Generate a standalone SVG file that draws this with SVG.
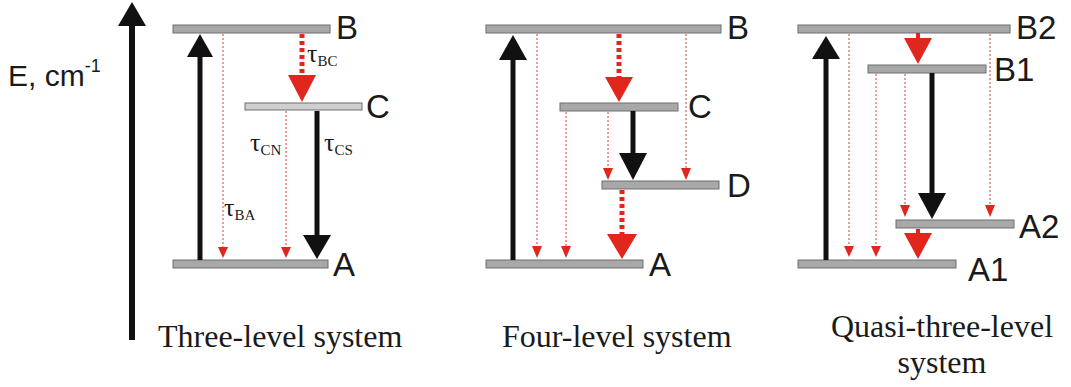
<svg xmlns="http://www.w3.org/2000/svg" width="1071" height="387" viewBox="0 0 1071 387">
<style>
.lvl{fill:#a8a8a8;stroke:#6e6e6e;stroke-width:1}
.lvl2{fill:#cfcfcf;stroke:#6e6e6e;stroke-width:1}
.lab{font-family:"Liberation Sans",Arial,sans-serif;font-size:33px;fill:#1a1a1a}
.cap{font-family:"Liberation Serif","Times New Roman",serif;font-size:32px;fill:#1a1a1a}
.tau{font-family:"Liberation Serif","Times New Roman",serif;font-size:26px;fill:#1a1a1a}
.sub{font-size:15px}
.blk{stroke:#111;stroke-width:5;fill:none}
.dot{stroke:#e8342a;stroke-width:1;stroke-dasharray:2 2;fill:none}
.dsh{stroke:#e0261d;stroke-width:5;stroke-dasharray:4 3;fill:none}
.ah{fill:#111}
.rh{fill:#e0261d}
</style>
<rect width="1071" height="387" fill="#fff"/>
<g id="axis">
<line x1="132" y1="340" x2="132" y2="24" stroke="#111" stroke-width="6"/>
<polygon points="132,2 146,26 118,26" class="ah"/>
<text x="8" y="86" font-family="Liberation Sans,Arial,sans-serif" font-size="30" fill="#1a1a1a">E, cm<tspan font-size="18" dy="-14">-1</tspan></text>
</g>
<!-- Three-level -->
<g id="t-B"><rect x="173" y="25" width="157" height="8" class="lvl"/><text x="336" y="39" class="lab">B</text></g>
<g id="t-C"><rect x="245" y="103" width="117" height="7" class="lvl2"/><text x="366" y="118" class="lab">C</text></g>
<g id="t-A"><rect x="173" y="260" width="155" height="8" class="lvl"/><text x="333" y="276" class="lab">A</text></g>
<g id="t-cap"><text x="158" y="347" class="cap">Three-level system</text></g>
<!-- Four-level -->
<g id="f-B"><rect x="486" y="25" width="235" height="8" class="lvl"/><text x="727" y="39" class="lab">B</text></g>
<g id="f-C"><rect x="560" y="103" width="118" height="8" class="lvl"/><text x="688" y="118" class="lab">C</text></g>
<g id="f-D"><rect x="602" y="181" width="117" height="8" class="lvl"/><text x="727" y="197" class="lab">D</text></g>
<g id="f-A"><rect x="486" y="260" width="157" height="8" class="lvl"/><text x="649" y="276" class="lab">A</text></g>
<g id="f-cap"><text x="502" y="347" class="cap">Four-level system</text></g>
<!-- Quasi-three-level -->
<g id="q-B2"><rect x="798" y="25" width="212" height="8" class="lvl"/><text x="1016" y="39" class="lab">B2</text></g>
<g id="q-B1"><rect x="868" y="65" width="118" height="8" class="lvl"/><text x="994" y="81" class="lab">B1</text></g>
<g id="q-A2"><rect x="896" y="220" width="118" height="8" class="lvl"/><text x="1019" y="238" class="lab">A2</text></g>
<g id="q-A1"><rect x="798" y="260" width="158" height="8" class="lvl"/><text x="968" y="281" class="lab">A1</text></g>
<g id="q-cap"><text x="942" y="337" class="cap" text-anchor="middle">Quasi-three-level</text><text x="942" y="373" class="cap" text-anchor="middle">system</text></g>
<g id="connectors">
<!-- three-level -->
<line x1="200" y1="260" x2="200" y2="55" class="blk"/>
<polygon points="200,34 213,57 187,57" class="ah"/>
<line x1="223" y1="34" x2="223" y2="248" class="dot"/>
<polygon points="218,247 228,247 223,258" class="rh"/>
<line x1="302" y1="34" x2="302" y2="76" class="dsh"/>
<polygon points="288,75 316,75 302,102" class="rh"/>
<line x1="286" y1="111" x2="286" y2="248" class="dot"/>
<polygon points="281,247 291,247 286,258" class="rh"/>
<line x1="317" y1="111" x2="317" y2="237" class="blk"/>
<polygon points="303,235 331,235 317,259" class="ah"/>
<text x="307" y="62" class="tau">τ<tspan class="sub" dy="4">BC</tspan></text>
<text x="250" y="151" class="tau">τ<tspan class="sub" dy="4">CN</tspan></text>
<text x="324" y="151" class="tau">τ<tspan class="sub" dy="4">CS</tspan></text>
<text x="224" y="216" class="tau">τ<tspan class="sub" dy="4">BA</tspan></text>
<!-- four-level -->
<line x1="513" y1="260" x2="513" y2="58" class="blk"/>
<polygon points="513,35 527,60 499,60" class="ah"/>
<line x1="537" y1="34" x2="537" y2="248" class="dot"/>
<polygon points="532,246 542,246 537,258" class="rh"/>
<line x1="686" y1="34" x2="686" y2="170" class="dot"/>
<polygon points="681,168 691,168 686,180" class="rh"/>
<line x1="619" y1="34" x2="619" y2="78" class="dsh"/>
<polygon points="605,77 633,77 619,102" class="rh"/>
<line x1="566" y1="112" x2="566" y2="248" class="dot"/>
<polygon points="561,246 571,246 566,258" class="rh"/>
<line x1="608" y1="112" x2="608" y2="170" class="dot"/>
<polygon points="603,168 613,168 608,180" class="rh"/>
<line x1="633" y1="111" x2="633" y2="155" class="blk"/>
<polygon points="619,153 647,153 633,180" class="ah"/>
<line x1="622" y1="190" x2="622" y2="235" class="dsh"/>
<polygon points="607,234 637,234 622,259" class="rh"/>
<!-- quasi -->
<line x1="826" y1="260" x2="826" y2="57" class="blk"/>
<polygon points="826,36 840,59 812,59" class="ah"/>
<line x1="849" y1="34" x2="849" y2="248" class="dot"/>
<polygon points="844,246 854,246 849,257" class="rh"/>
<line x1="990" y1="34" x2="990" y2="207" class="dot"/>
<polygon points="985,205 995,205 990,217" class="rh"/>
<line x1="918" y1="33" x2="918" y2="39" stroke="#e0261d" stroke-width="4"/>
<polygon points="904,38 932,38 918,64" class="rh"/>
<line x1="876" y1="74" x2="876" y2="248" class="dot"/>
<polygon points="871,246 881,246 876,257" class="rh"/>
<line x1="905" y1="74" x2="905" y2="207" class="dot"/>
<polygon points="900,205 910,205 905,217" class="rh"/>
<line x1="932" y1="73" x2="932" y2="195" class="blk"/>
<polygon points="918,193 946,193 932,219" class="ah"/>
<line x1="918" y1="229" x2="918" y2="234" stroke="#e0261d" stroke-width="4"/>
<polygon points="904,233 932,233 918,259" class="rh"/>
</g>
</svg>
